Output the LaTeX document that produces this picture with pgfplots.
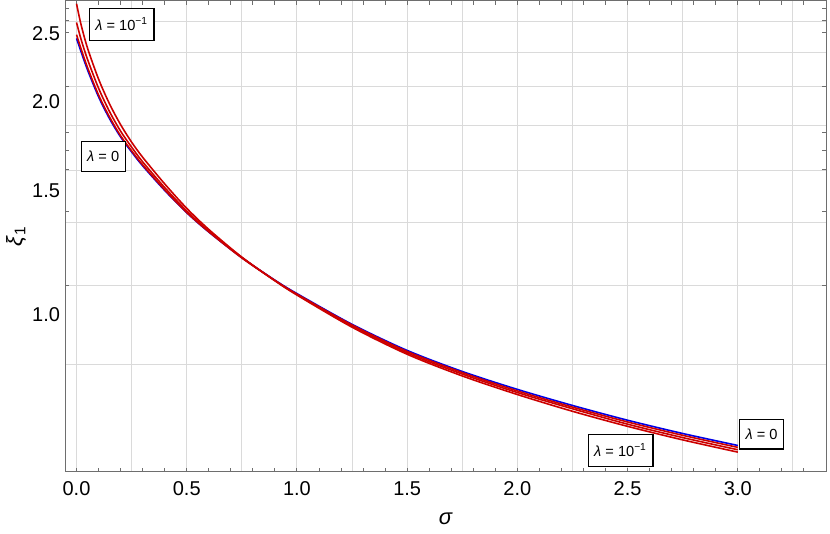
\documentclass[border=0pt]{standalone}
\usepackage{fontspec}
\setmainfont{Liberation Sans}
\usepackage{pgfplots}
\usepackage{pgfplotstable}
\pgfplotsset{compat=1.18}
\usetikzlibrary{calc}

\definecolor{curvered}{RGB}{204,0,0}
\definecolor{curveblue}{RGB}{0,0,230}
\definecolor{framegray}{RGB}{110,110,110}
\definecolor{gridgray}{RGB}{218,218,218}

% lambda = 0
\pgfplotstableread{
s xi
0    2.460
0.02 2.359
0.05 2.220
0.1  2.034
0.15 1.894
0.2  1.785
0.25 1.700
0.3  1.625
0.4  1.500
0.5  1.395
0.6  1.310
0.75 1.205
0.9  1.120
1.0  1.072
1.25 0.970
1.5  0.891
1.75 0.832
2.0  0.785
2.25 0.745
2.5  0.710
2.75 0.680
3.0  0.654
}\lamzero

\pgfplotstableread{
s xi
0    2.490
0.02 2.381
0.05 2.237
0.1  2.046
0.15 1.904
0.2  1.792
0.25 1.706
0.3  1.630
0.4  1.503
0.5  1.396
0.6  1.311
0.75 1.204
0.9  1.119
1.0  1.070
1.25 0.968
1.5  0.888
1.75 0.829
2.0  0.781
2.25 0.741
2.5  0.706
2.75 0.676
3.0  0.650
}\lamone

\pgfplotstableread{
s xi
0    2.591
0.02 2.456
0.05 2.297
0.1  2.092
0.15 1.938
0.2  1.819
0.25 1.727
0.3  1.646
0.4  1.514
0.5  1.403
0.6  1.314
0.75 1.206
0.9  1.118
1.0  1.069
1.25 0.965
1.5  0.884
1.75 0.825
2.0  0.777
2.25 0.737
2.5  0.701
2.75 0.671
3.0  0.645
}\lamtwo

% lambda = 10^-1
\pgfplotstableread{
s xi
0    2.754
0.02 2.577
0.05 2.383
0.1  2.155
0.15 1.987
0.2  1.858
0.25 1.755
0.3  1.671
0.4  1.532
0.5  1.415
0.6  1.321
0.75 1.207
0.9  1.118
1.0  1.067
1.25 0.961
1.5  0.880
1.75 0.820
2.0  0.772
2.25 0.731
2.5  0.696
2.75 0.666
3.0  0.640
}\lamthree

\begin{document}
\begin{tikzpicture}
\begin{axis}[
    name=ax,
    scale only axis,
    width=380.25pt, height=235.5pt,
    xmin=-0.05, xmax=3.4,
    ymode=log, ymin=0.6007, ymax=2.782,
    axis line style={framegray, line width=0.5pt},
    tick style={framegray, line width=0.5pt},
    major tick length=0pt, minor tick length=2pt,
    xtick={0,0.25,...,3.25},
    xticklabels={0.0,,0.5,,1.0,,1.5,,2.0,,2.5,,3.0,},
    minor xtick={0,0.1,...,3.35},
    ytick={0.85,1.1,1.35,1.6,1.85,2.1,2.35,2.6},
    yticklabels={,,,,,,,},
    minor ytick={1.1,1.4,1.605,1.706,1.81,2.1,2.51,2.61,2.71},
    extra y ticks={1,1.5,2,2.5},
    extra y tick labels={1.0,1.5,2.0,2.5},
    extra y tick style={grid=none},
    grid=major, grid style={gridgray, line width=0.5pt},
    tick label style={font=\fontsize{10}{12}\selectfont},
    xticklabel style={yshift=-1.5pt},
    yticklabel style={xshift=0.8pt},
    xlabel={\textit{σ}},
    ylabel={\textit{ξ}\textsubscript{1}},
    xlabel style={at={(axis description cs:0.5,-0.0998)}, anchor=center, font=\fontsize{11}{13}\selectfont},
    ylabel style={at={(axis description cs:-0.0651,0.5)}, anchor=center, rotate=0, font=\fontsize{11}{13}\selectfont},
]
\addplot[curveblue, line width=0.8pt, smooth] table[x=s, y=xi] {\lamzero};
\addplot[curvered, line width=0.8pt, smooth] table[x=s, y=xi] {\lamone};
\addplot[curvered, line width=0.8pt, smooth] table[x=s, y=xi] {\lamtwo};
\addplot[curvered, line width=0.8pt, smooth] table[x=s, y=xi] {\lamthree};

\tikzset{lbl/.style={draw=black, fill=white, line width=0.6pt, inner xsep=3pt, inner ysep=4.8pt, font=\fontsize{7.3}{8}\selectfont}}
\node[lbl] at (axis cs:0.205,2.575) {\textit{λ} = 10\textsuperscript{−1}};
\node[lbl] at (axis cs:0.121,1.675) {\textit{λ} = 0};
\node[lbl] at (axis cs:2.468,0.6436) {\textit{λ} = 10\textsuperscript{−1}};
\node[lbl] at (axis cs:3.108,0.6787) {\textit{λ} = 0};
\end{axis}
\pgfresetboundingbox
\path[use as bounding box] ($(ax.south west)+(-32.75pt,-31pt)$) rectangle ($(ax.north east)+(2pt,0.3pt)$);
\end{tikzpicture}
\end{document}
